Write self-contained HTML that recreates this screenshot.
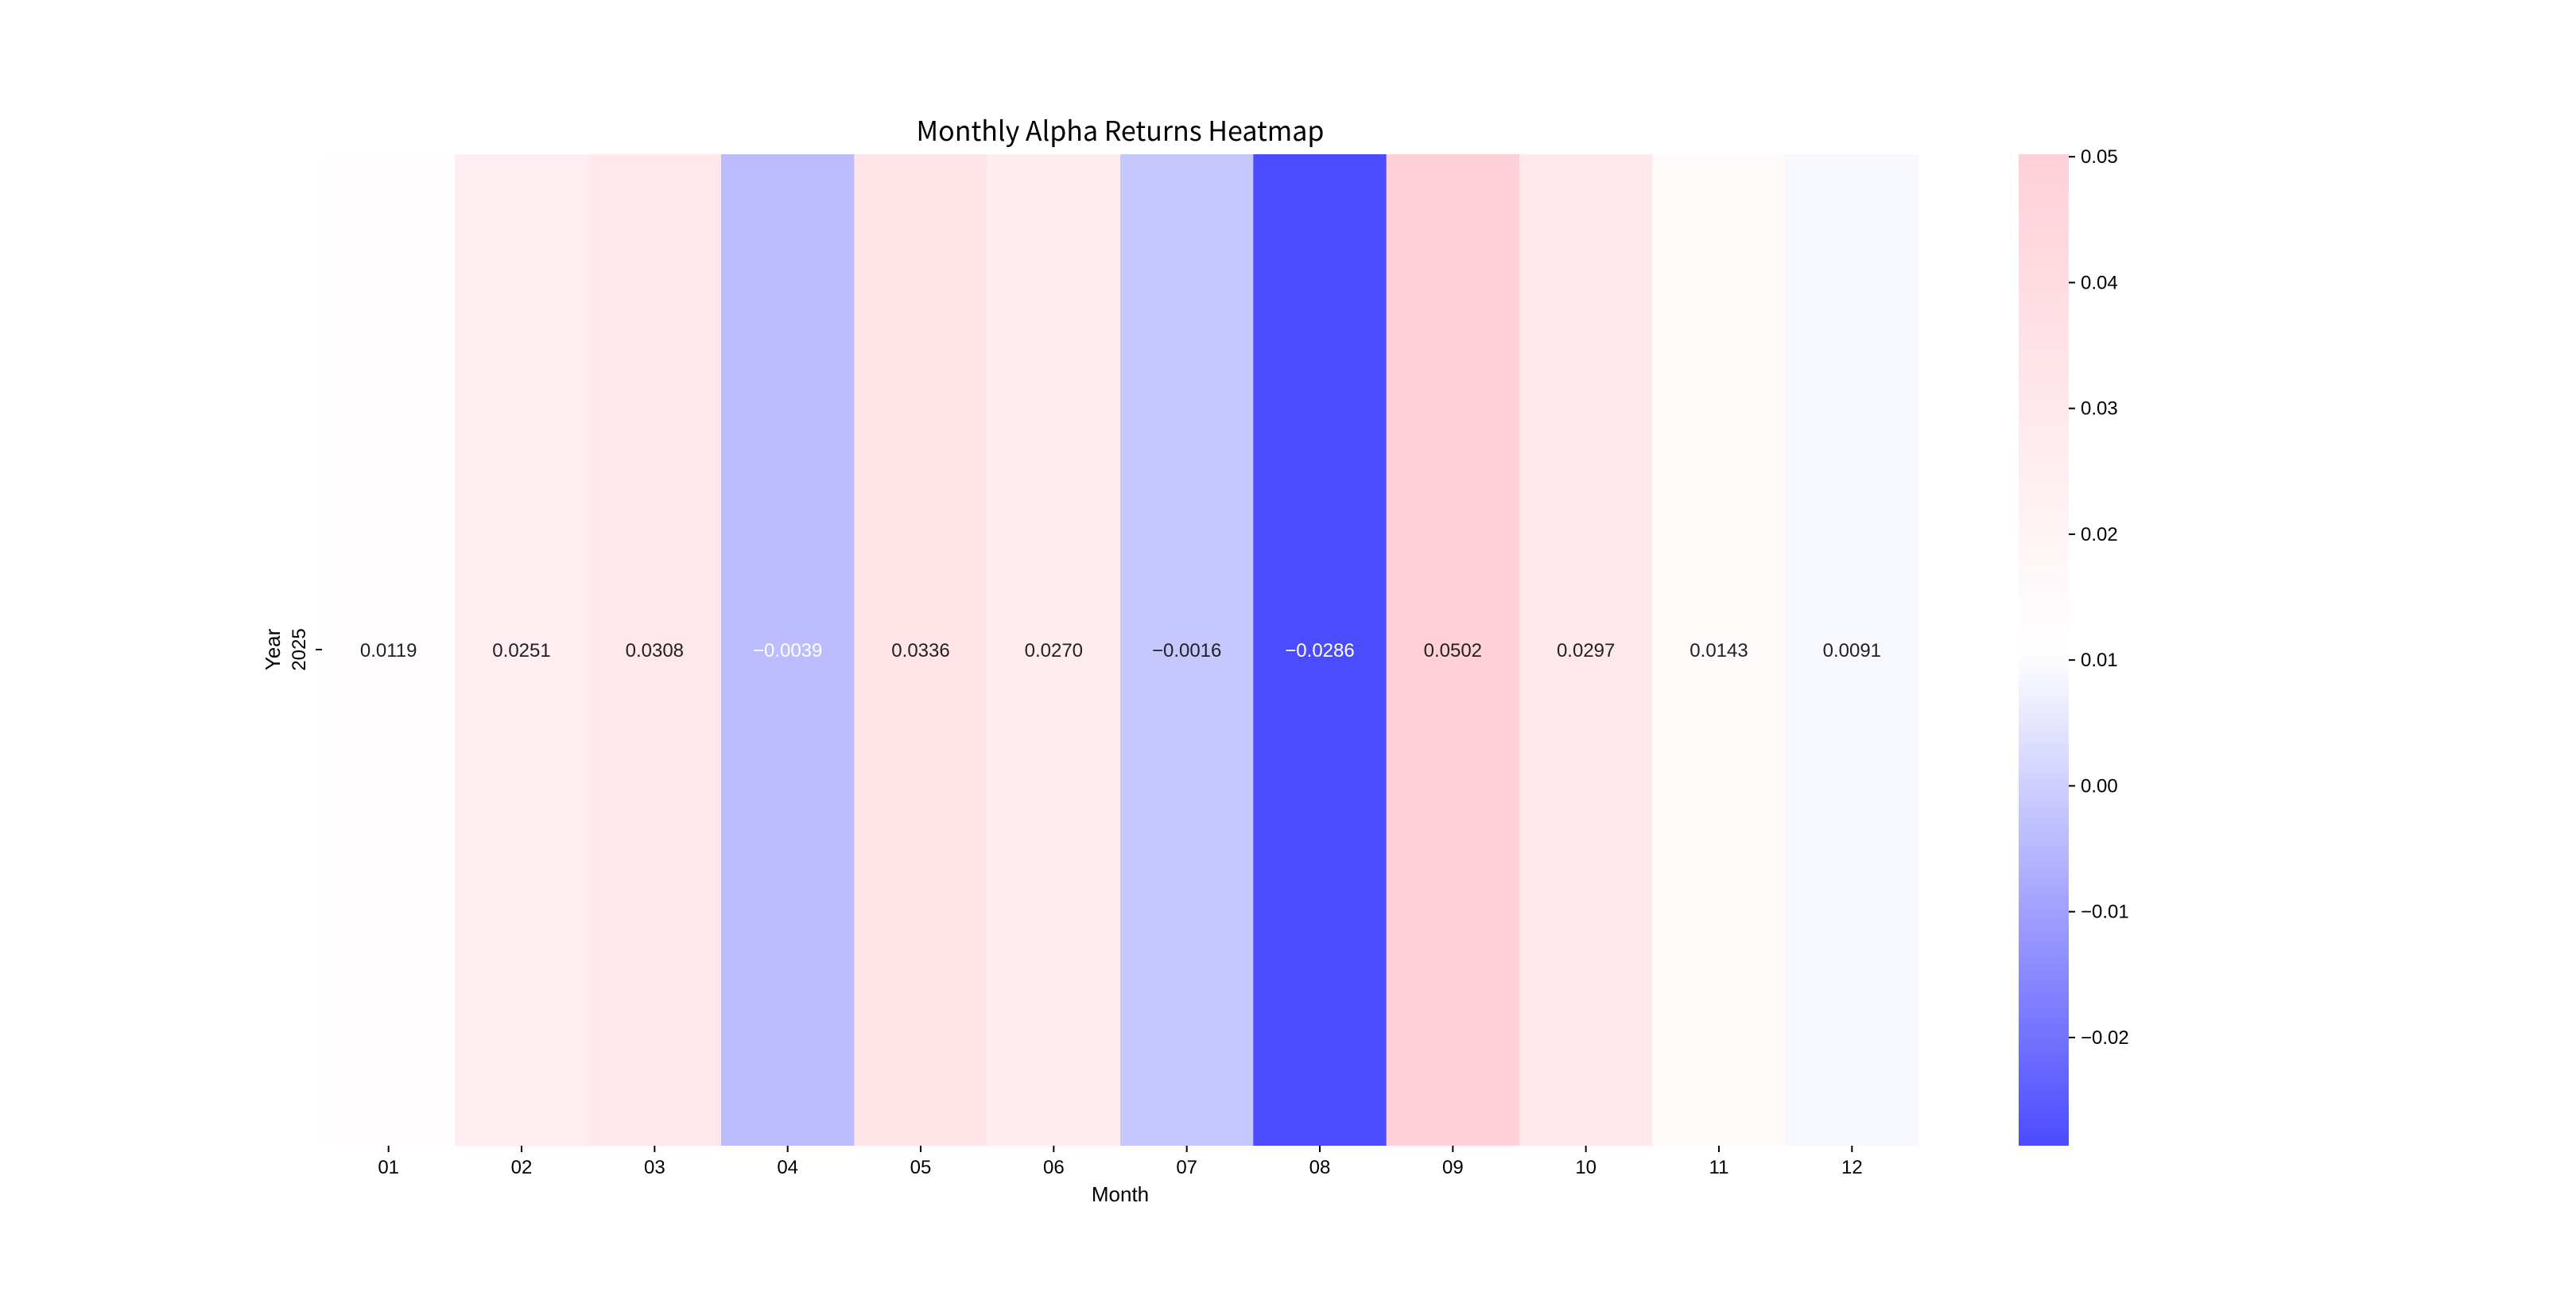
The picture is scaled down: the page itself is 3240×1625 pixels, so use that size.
<!DOCTYPE html>
<html><head><meta charset="utf-8"><style>
html,body{margin:0;padding:0;background:#fff;}
svg text{font-family:"Liberation Sans","WenQuanYi Zen Hei",sans-serif;}
</style></head><body>
<svg id="chart" width="3240" height="1620" viewBox="0 0 3240 1620" xmlns="http://www.w3.org/2000/svg">
<rect width="3240" height="1620" fill="#fff"/>
<text x="1409" y="177" text-anchor="middle" font-size="34" style="font-family:'WenQuanYi Zen Hei','Noto Sans CJK SC',sans-serif">Monthly Alpha Returns Heatmap</text>
<g id="cells"></g>
<g id="xticks"></g>
<text x="1409" y="1511" text-anchor="middle" font-size="26">Month</text>
<text transform="translate(352,817) rotate(-90)" text-anchor="middle" font-size="26">Year</text>
<text transform="translate(384,817) rotate(-90)" text-anchor="middle" font-size="24">2025</text>
<line x1="397" y1="817" x2="405" y2="817" stroke="#000" stroke-width="2"/>
<defs><linearGradient id="cbgrad" x1="0" y1="1" x2="0" y2="0"></linearGradient></defs>
<rect id="cbar" x="2539" width="63" fill="url(#cbgrad)"/>
<g id="cbticks"></g>
</svg>
<script>
const months = ["01","02","03","04","05","06","07","08","09","10","11","12"];
const values = [0.0119,0.0251,0.0308,-0.0039,0.0336,0.0270,-0.0016,-0.0286,0.0502,0.0297,0.0143,0.0091];
const cbTicks = [0.05,0.04,0.03,0.02,0.01,0.00,-0.01,-0.02];
const cbTickLabels = ["0.05","0.04","0.03","0.02","0.01","0.00","\u22120.01","\u22120.02"];

const NS="http://www.w3.org/2000/svg";
const L=405,R=2413,T=194,B=1441;
const vmin=Math.min(...values), vmax=Math.max(...values), vcenter=0.0106;
const cw=(R-L)/months.length;
const xPos=i=>L+i*cw;
const yVal=v=>T+(vmax-v)/(vmax-vmin)*(B-T);
function color(v){
  const lo=[75,75,255], mid=[255,255,255], hi=[255,208,216];
  let a,b,t;
  if(v<vcenter){a=mid;b=lo;t=(vcenter-v)/(vcenter-vmin);}else{a=mid;b=hi;t=(v-vcenter)/(vmax-vcenter);}
  t=Math.max(0,Math.min(1,t));
  return `rgb(${a.map((c,k)=>Math.round(c+(b[k]-c)*t)).join(',')})`;
}
function el(tag,attrs,parent){const e=document.createElementNS(NS,tag);for(const k in attrs)e.setAttribute(k,attrs[k]);parent.appendChild(e);return e;}
const cells=document.getElementById('cells'), xt=document.getElementById('xticks');
values.forEach((v,i)=>{
  const r=el('rect',{x:xPos(i),y:T,width:cw+0.5,height:B-T,fill:color(v)},cells);
  
  
  const dark=(v<vcenter)&&((vcenter-v)/(vcenter-vmin)>0.35);
  const t=el('text',{x:xPos(i)+cw/2,y:826,'text-anchor':'middle','font-size':24,fill:dark?'#fff':'#222'},cells);
  t.textContent=v.toFixed(4).replace('-','\u2212');
  
  
  const tk=el('line',{x1:xPos(i)+cw/2,x2:xPos(i)+cw/2,y1:B,y2:B+8,stroke:'#000','stroke-width':2},xt);
  
  
  const lb=el('text',{x:xPos(i)+cw/2,y:1476,'text-anchor':'middle','font-size':24},xt);
  lb.textContent=months[i];
  
  
});
const g=document.getElementById('cbgrad');
for(let s=0;s<=40;s++){const v=vmin+(vmax-vmin)*s/40;el('stop',{offset:(s/40),'stop-color':color(v)},g);}
const cb=document.getElementById('cbar');cb.setAttribute('y',T);cb.setAttribute('height',B-T);
const cbt=document.getElementById('cbticks');
cbTicks.forEach((v,i)=>{
  const y=yVal(v);
  const l=el('line',{x1:2602,x2:2610,y1:y,y2:y,stroke:'#000','stroke-width':2},cbt);
  
  
  const t=el('text',{x:2617,y:y+8,'font-size':24},cbt);
  t.textContent=cbTickLabels[i];
  
  
});
</script>
</body></html>
